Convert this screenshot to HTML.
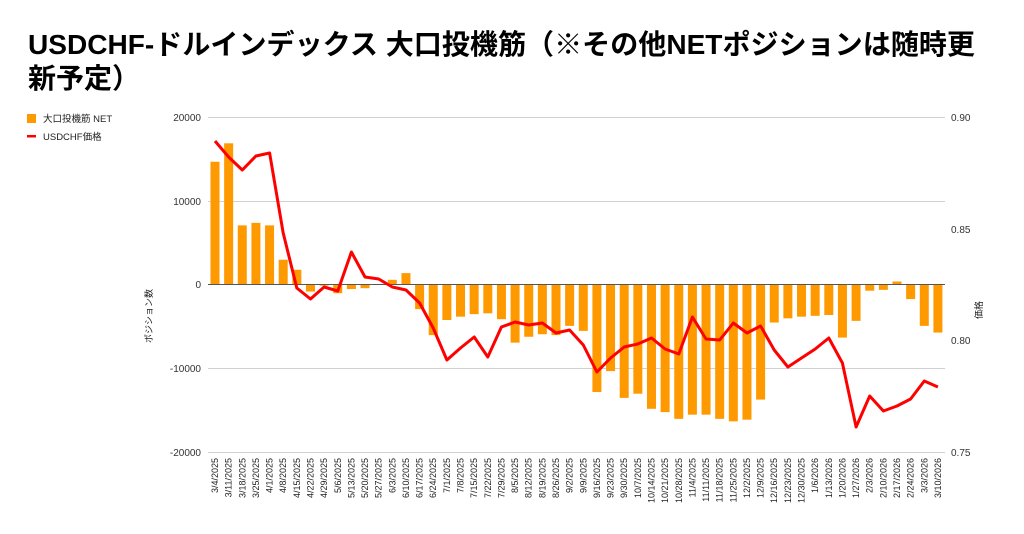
<!DOCTYPE html>
<html><head><meta charset="utf-8"><style>
html,body{margin:0;padding:0;background:#fff;}
svg{display:block;font-family:"Liberation Sans","Noto Sans CJK JP",sans-serif;}
</style></head><body>
<svg width="1024" height="534" viewBox="0 0 1024 534" xmlns="http://www.w3.org/2000/svg">
<text x="28" y="54" font-size="28" font-weight="bold" fill="#000" textLength="947" lengthAdjust="spacingAndGlyphs">USDCHF-ドルインデックス 大口投機筋（※その他NETポジションは随時更</text>
<text x="28" y="88" font-size="28" font-weight="bold" fill="#000">新予定）</text>
<rect x="27" y="114" width="9" height="9" fill="#ff9900"/>
<text x="43" y="122" font-size="9.5" fill="#222">大口投機筋  NET</text>
<rect x="27" y="135" width="9" height="2.5" fill="#ff0000"/>
<text x="43" y="140" font-size="9.5" fill="#222">USDCHF価格</text>
<g stroke="#d0d0d0" stroke-width="1">
<line x1="208" x2="945" y1="117.5" y2="117.5"/>
<line x1="208" x2="945" y1="201.5" y2="201.5"/>
<line x1="208" x2="945" y1="368.5" y2="368.5"/>
<line x1="208" x2="945" y1="452.5" y2="452.5"/>
</g>
<g font-size="10" fill="#333" text-anchor="end">
<text x="201" y="121">20000</text><text x="201" y="205">10000</text><text x="201" y="288">0</text><text x="201" y="372">-10000</text><text x="201" y="456">-20000</text>
</g>
<g font-size="10" fill="#333">
<text x="951" y="121">0.90</text><text x="951" y="233">0.85</text><text x="951" y="344">0.80</text><text x="951" y="456">0.75</text>
</g>
<text transform="translate(152,316) rotate(-90)" font-size="9" fill="#222" text-anchor="middle">ポジション数</text>
<text transform="translate(982,310) rotate(-90)" font-size="9" fill="#222" text-anchor="middle">価格</text>
<g id="bars" fill="#ff9900"></g>
<line x1="208" x2="945" y1="284.5" y2="284.5" stroke="#555" stroke-width="1"/>
<polyline id="ln" fill="none" stroke="#ff0000" stroke-width="3" stroke-linejoin="round"/>
<g id="xl" font-size="9" fill="#222" text-anchor="end"></g>
<script>
var v=[14600,16800,7000,7300,7000,2900,1700,-900,-200,-1100,-600,-500,-100,500,1300,-3000,-6100,-4300,-3900,-3600,-3500,-4200,-7000,-6300,-6000,-6100,-5000,-5600,-12900,-10400,-13600,-13100,-14900,-15300,-16100,-15600,-15600,-16100,-16400,-16200,-13800,-4600,-4100,-3900,-3800,-3700,-6400,-4400,-800,-700,300,-1800,-5000,-5800];
var p=[141,157,170,156,153,233,288,299,287,291,252,277,279,287,290,303,328,360,348,337,357,327,322,325,323,333,330,345,372,358,347,344,338,349,354,317,339,340,323,333,326,350,367,358,349,338,363,427,396,411,406,399,381,387];
var d=["3/4/2025","3/11/2025","3/18/2025","3/25/2025","4/1/2025","4/8/2025","4/15/2025","4/22/2025","4/29/2025","5/6/2025","5/13/2025","5/20/2025","5/27/2025","6/3/2025","6/10/2025","6/17/2025","6/24/2025","7/1/2025","7/8/2025","7/15/2025","7/22/2025","7/29/2025","8/5/2025","8/12/2025","8/19/2025","8/26/2025","9/2/2025","9/9/2025","9/16/2025","9/23/2025","9/30/2025","10/7/2025","10/14/2025","10/21/2025","10/28/2025","11/4/2025","11/11/2025","11/18/2025","11/25/2025","12/2/2025","12/9/2025","12/16/2025","12/23/2025","12/30/2025","1/6/2026","1/13/2026","1/20/2026","1/27/2026","2/3/2026","2/10/2026","2/17/2026","2/24/2026","3/3/2026","3/10/2026"];
var ns="http://www.w3.org/2000/svg",b=document.getElementById("bars"),xl=document.getElementById("xl"),pts=[];
for(var i=0;i<54;i++){var cx=215+i*13.64;var h=Math.abs(v[i])*83.75/10000;var y=v[i]>=0?284-h:284;
var r=document.createElementNS(ns,"rect");r.setAttribute("x",cx-4.5);r.setAttribute("y",y);r.setAttribute("width",9);r.setAttribute("height",Math.max(h,0.5));b.appendChild(r);
pts.push(cx.toFixed(1)+","+p[i]);
var t=document.createElementNS(ns,"text");t.setAttribute("transform","translate("+(cx+3)+",458) rotate(-90)");t.textContent=d[i];xl.appendChild(t);}
document.getElementById("ln").setAttribute("points",pts.join(" "));
</script>
</svg>
</body></html>
